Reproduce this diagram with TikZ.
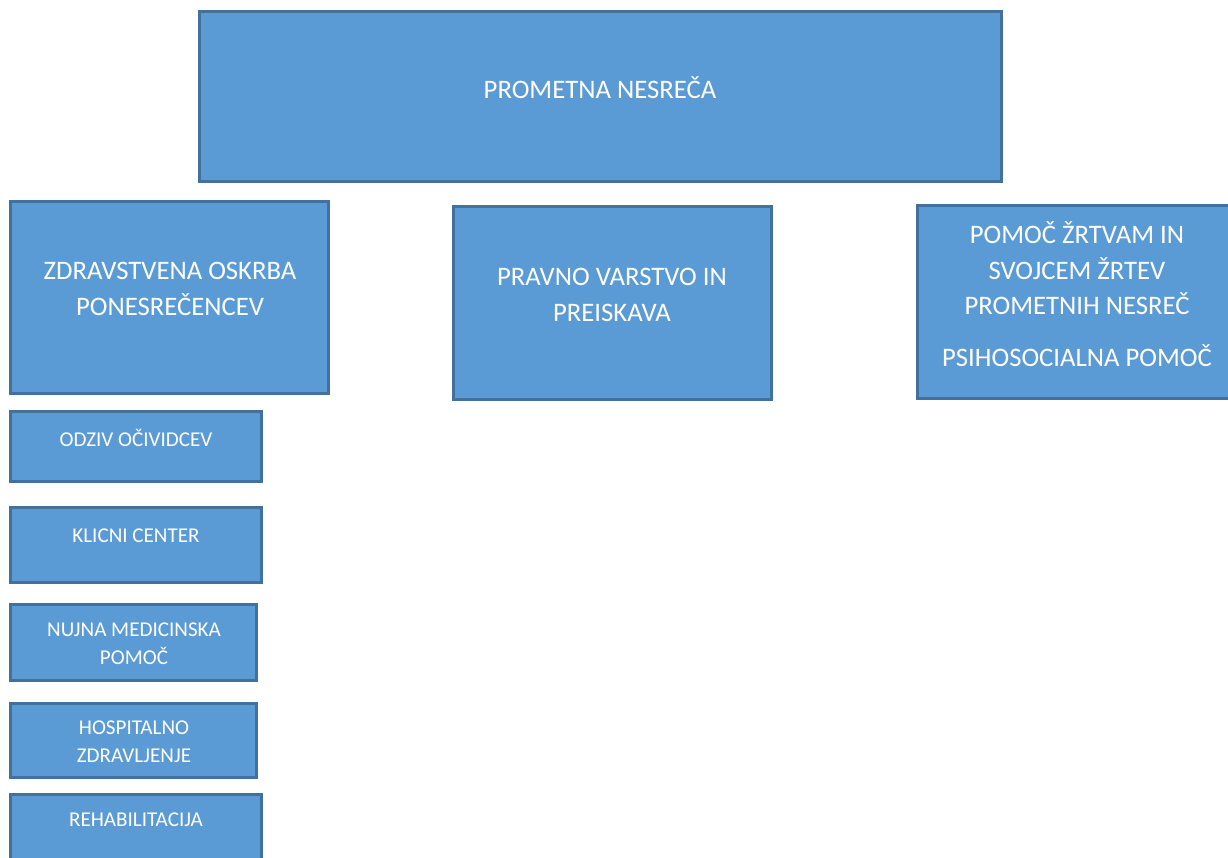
\documentclass[tikz,border=0pt]{standalone}
\usepackage{fontspec}
\setmainfont{Carlito}
\definecolor{boxfill}{HTML}{5B9BD5}
\definecolor{boxline}{HTML}{41719C}
\tikzset{
  box/.style={draw=boxline,fill=boxfill,line width=1.7pt,inner sep=0pt,outer sep=0pt},
  bigbox/.style={box,minimum width=6.36cm,minimum height=3.86cm},
  bigtext/.style={text=white,align=center,inner sep=0pt,font=\fontsize{15.2}{20.4}\selectfont},
  smalltext/.style={text=white,align=center,inner sep=0pt,font=\fontsize{12}{15.8}\selectfont},
}

\begin{document}
\begin{tikzpicture}[x=0.02cm,y=-0.02cm]
  \useasboundingbox (0,0) rectangle (1228,858);
  \clip (0,0) rectangle (1228,858);
  % top box
  \node[box,minimum width=16.04cm,minimum height=3.4cm] (nesreca) at (600.5,96.5) {};
  \node[bigtext] (nesrecatxt) at (600,88) {PROMETNA NESREČA};
  % second row
  \node[bigbox] (oskrba) at (169.5,297.5) {};
  \node[bigtext] (oskrbatxt) at (170,289) {ZDRAVSTVENA OSKRBA\\PONESREČENCEV};
  \node[bigbox] (varstvo) at (612.5,303) {};
  \node[bigtext] (varstvotxt) at (612,295) {PRAVNO VARSTVO IN\\PREISKAVA};
  \node[bigbox] (pomoc) at (1076.5,302) {};
  \node[bigtext] (pomoctxt) at (1077,294) {POMOČ ŽRTVAM IN\\SVOJCEM ŽRTEV\\PROMETNIH NESREČ\\[9pt]PSIHOSOCIALNA POMOČ};
  % column under oskrba
  \node[box,minimum width=5.02cm,minimum height=1.4cm] (odziv) at (136,446.5) {};
  \node[smalltext] (odzivtxt) at (136,438) {ODZIV OČIVIDCEV};
  \node[box,minimum width=5.02cm,minimum height=1.5cm] (klicni) at (136,545) {};
  \node[smalltext] (klicnitxt) at (136,536) {KLICNI CENTER};
  \node[box,minimum width=4.92cm,minimum height=1.52cm] (nujna) at (133.5,642.5) {};
  \node[smalltext] (nujnatxt) at (134,643.5) {NUJNA MEDICINSKA\\POMOČ};
  \node[box,minimum width=4.92cm,minimum height=1.48cm] (hosp) at (133.5,740.5) {};
  \node[smalltext] (hosptxt) at (134,741.5) {HOSPITALNO\\ZDRAVLJENJE};
  \node[box,minimum width=5.02cm,minimum height=1.46cm] (rehab) at (136,831) {};
  \node[smalltext] (rehabtxt) at (136,820) {REHABILITACIJA};
\end{tikzpicture}
\end{document}
